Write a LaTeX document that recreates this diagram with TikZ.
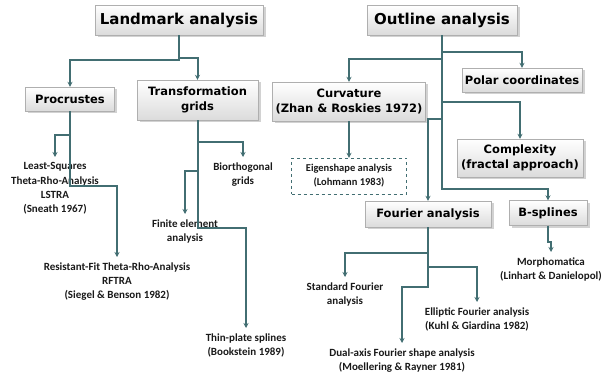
\documentclass[tikz,border=0pt]{standalone}
\usepackage{fontspec}
\setmainfont{Carlito}
\newfontfamily\comicfont{DejaVu Sans}
\usetikzlibrary{arrows.meta,shadows}
\definecolor{linkcol}{RGB}{66,110,114}
\definecolor{boxline}{RGB}{175,175,175}
\tikzset{
  main/.style={draw=boxline, top color=white, bottom color=black!14, align=center, inner sep=0pt,
    drop shadow={shadow xshift=2.5pt, shadow yshift=-2.5pt, fill=black!35},
    font=\comicfont\bfseries\fontsize{15}{18}\selectfont},
  sub/.style={main, font=\comicfont\bfseries\fontsize{11.5}{15}\selectfont},
  leaf/.style={anchor=north, align=center, inner xsep=2pt, inner ysep=5.5pt, text=black!90,
    font=\bfseries\fontsize{11}{14.2}\selectfont},
  tentative/.style={draw=linkcol, dashed, align=center, inner sep=0pt, text=black!90,
    font=\bfseries\fontsize{10.5}{14}\selectfont},
  link/.style={draw=linkcol, line width=2pt},
  elbow/.style={to path={-- ++(0,#1) -| (\tikztotarget)}},
}
\begin{document}
\begin{tikzpicture}[x=1pt, y=-1pt, ->, >={Stealth[length=5pt,width=5pt]}]
      \useasboundingbox (0,0) rectangle (605,382);
      % landmark side
      \node [main, minimum width=168, minimum height=30] (land) at (179,20) {Landmark analysis};
      \node [sub, minimum width=89, minimum height=24] (proc) at (70,99) {Procrustes};
      \node [sub, minimum width=121, minimum height=40] (trans) at (197.5,100) {Transformation\\grids};
      \node [leaf] (lsq) at (55,157) {Least-Squares\\Theta-Rho-Analysis\\LSTRA\\(Sneath 1967)};
      \node [leaf] (rftra) at (117,257) {Resistant-Fit Theta-Rho-Analysis\\RFTRA\\(Siegel \& Benson 1982)};
      \node [leaf] (bior) at (243,157) {Biorthogonal\\grids};
      \node [leaf] (fem) at (185,214) {Finite element\\analysis};
      \node [leaf] (tps) at (246,328) {Thin-plate splines\\(Bookstein 1989)};
      % outline side
      \node [main, minimum width=150, minimum height=30] (outl) at (442,20) {Outline analysis};
      \node [sub, minimum width=153, minimum height=39] (curv) at (349,101.5) {Curvature\\(Zhan \& Roskies 1972)};
      \node [sub, minimum width=120, minimum height=24] (polar) at (522,80) {Polar coordinates};
      \node [sub, minimum width=126, minimum height=38] (compl) at (520,158) {Complexity\\(fractal approach)};
      \node [tentative, minimum width=115, minimum height=36] (eigen) at (349,176) {Eigenshape analysis\\(Lohmann 1983)};
      \node [sub, minimum width=126, minimum height=26] (four) at (428,214) {Fourier analysis};
      \node [sub, minimum width=78, minimum height=25] (bspl) at (548,213) {B-splines};
      \node [leaf] (stdf) at (345,277) {Standard Fourier\\analysis};
      \node [leaf] (ellf) at (477,302) {Elliptic Fourier analysis\\(Kuhl \& Giardina 1982)};
      \node [leaf] (dual) at (402,343) {Dual-axis Fourier shape analysis\\(Moellering \& Rayner 1981)};
      \node [leaf] (morph) at (551,252) {Morphomatica\\(Linhart \& Danielopol)};
      \path
      (land.south) edge [link, elbow=25] (proc.north)
      (land.south) edge [link, elbow=23] (trans.north)
      (proc.south) edge [link, elbow=24] (lsq.north)
      (proc.south) edge [link, elbow=75] (rftra.north)
      (trans.south) edge [link, elbow=22] (bior.north)
      (trans.south) edge [link, elbow=51] (fem.north)
      (trans.south) edge [link, elbow=108] (tps.north)
      (outl.south) edge [link, elbow=24] (curv.north)
      (outl.south) edge [link, elbow=17] (polar.north)
      (outl.south) edge [link, elbow=67] (compl.north)
      (outl.south) edge [link, elbow=84] (four.north)
      (outl.south) edge [link, elbow=154] (bspl.north)
      (curv) edge [link] (eigen)
      (four.south) edge [link, elbow=26] (stdf.north)
      (four.south) edge [link, elbow=40] (ellf.north)
      (four.south) edge [link, elbow=60] (dual.north)
      (bspl.south) edge [link, elbow=16] (morph.north)
      ;
\end{tikzpicture}
\end{document}
